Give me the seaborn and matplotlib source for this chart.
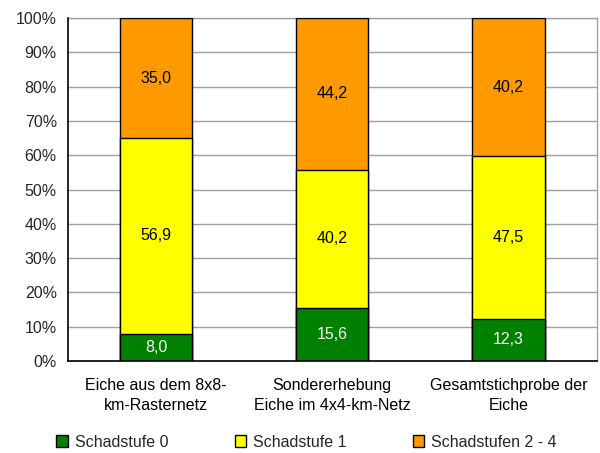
import numpy as np
import pandas as pd
import seaborn as sns
import matplotlib.pyplot as plt
from matplotlib.patches import Patch
from matplotlib.ticker import FixedLocator, PercentFormatter

sns.set_theme(style="white")
plt.rcParams['font.family'] = ['Liberation Sans', 'DejaVu Sans']

categories = ["Eiche aus dem 8x8-\nkm-Rasternetz",
              "Sondererhebung\nEiche im 4x4-km-Netz",
              "Gesamtstichprobe der\nEiche"]
stufe0 = [8.0, 15.6, 12.3]
stufe1 = [56.9, 40.2, 47.5]
stufe2_4 = [35.0, 44.2, 40.2]
series_names = ["Schadstufe 0", "Schadstufe 1", "Schadstufen 2 - 4"]
colors = ["#008000", "#FFFF00", "#FF9900"]
text_colors = ["white", "black", "black"]

FS = 11.5

vals = np.array([stufe0, stufe1, stufe2_4])
shares = vals / vals.sum(axis=0) * 100
tops = np.cumsum(shares, axis=0)
bottoms = tops - shares

fig = plt.figure(figsize=(6.0, 4.53), dpi=100)
ax = fig.add_axes([0.1133, 0.203, 0.881, 0.757])

# stacked bars drawn from the top layer down
for i in reversed(range(3)):
    df = pd.DataFrame({"cat": categories, "top": tops[i]})
    sns.barplot(data=df, x="cat", y="top", color=colors[i], saturation=1,
                width=0.41, edgecolor="black", linewidth=1.0, ax=ax, zorder=3)

for i in range(3):
    for j in range(3):
        ax.text(j, bottoms[i, j] + shares[i, j] / 2, f"{vals[i, j]:.1f}".replace(".", ","),
                ha="center", va="center", fontsize=FS, color=text_colors[i], zorder=5)

ax.set_xlim(-0.5, 2.5)
ax.set_ylim(0, 100)
ax.yaxis.set_major_locator(FixedLocator(np.arange(0, 101, 10)))
ax.yaxis.set_major_formatter(PercentFormatter(decimals=0))
ax.grid(axis="y", color="#A0A0A0", linewidth=1.0, zorder=0)
ax.set_axisbelow(True)

ax.set_xticks([0, 1, 2])
ax.set_xticklabels(categories, fontsize=FS, linespacing=1.45)
ax.tick_params(axis="x", which="major", length=0, pad=12, colors="black")
ax.set_xticks([-0.5, 0.5, 1.5, 2.5], minor=True)
ax.tick_params(axis="x", which="minor", length=5, direction="out", width=1, color="black")
ax.tick_params(axis="y", length=5, direction="out", width=1, color="black", labelsize=FS, pad=3)
ax.set_xlabel("")
ax.set_ylabel("")

for side in ["left", "bottom"]:
    ax.spines[side].set_color("black")
    ax.spines[side].set_linewidth(1.2)
    ax.spines[side].set_zorder(6)
for side in ["top", "right"]:
    ax.spines[side].set_color("#A0A0A0")
    ax.spines[side].set_linewidth(1.0)

handles = [Patch(facecolor=c, edgecolor="black", linewidth=1.0) for c in colors]
fig.legend(handles, series_names, loc="center left", bbox_to_anchor=(0.094, 0.024), ncol=3,
           frameon=False, fontsize=FS, handlelength=0.7, handleheight=0.7,
           handletextpad=0.45, columnspacing=4.15, borderaxespad=0, borderpad=0)

fig.savefig("out.png", dpi=100)
